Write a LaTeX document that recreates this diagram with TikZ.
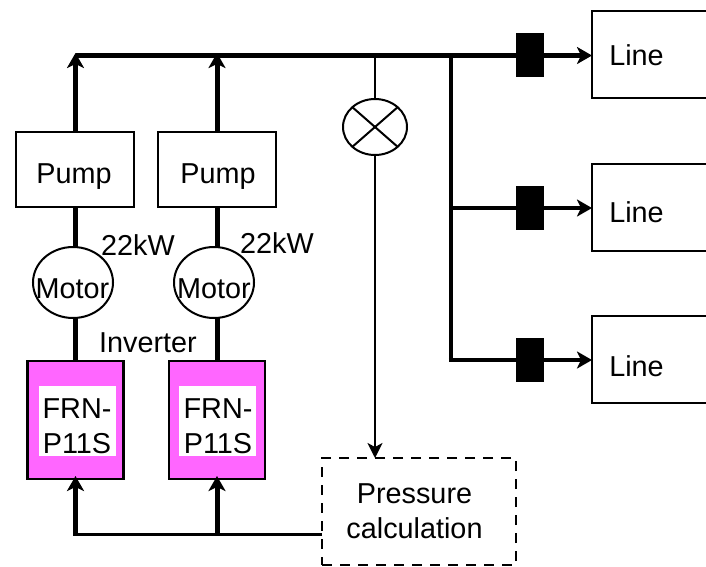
\documentclass[tikz,border=0pt]{standalone}
\usepackage{fontspec}
\setmainfont{Liberation Sans}
\usetikzlibrary{arrows.meta,shapes.geometric}
\tikzset{
  x=1pt,y=-1pt,
  txt/.style={inner sep=0pt,outer sep=0pt,anchor=base,font=\fontsize{28.8}{35}\selectfont,align=center},
  boxn/.style={draw=black,line width=2pt,fill=white,inner sep=0pt,outer sep=0pt,minimum width=#1},
  ringn/.style={draw=black,line width=2pt,ellipse,inner sep=0pt,outer sep=0pt},
  invn/.style={draw=black,line width=2.4pt,fill={rgb,255:red,255;green,102;blue,255},minimum width=96pt,minimum height=118pt,inner sep=0pt,outer sep=0pt},
  whiten/.style={fill=white,minimum width=77pt,minimum height=70pt,inner sep=0pt},
  thick line/.style={line width=5pt},
  thin line/.style={line width=2.2pt},
  tipthick/.style={-{Stealth[length=15pt,width=17pt,inset=4pt]}},
  tipthin/.style={-{Stealth[length=15pt,width=15pt,inset=4pt]}},
  valve/.style={fill=black,inner sep=0pt,outer sep=0pt,minimum width=28pt,minimum height=44pt},
}
\begin{document}
\begin{tikzpicture}
\useasboundingbox (0,0) rectangle (706,566);
% coordinates
\coordinate (busL) at (75.5,55.5);
\coordinate (bus2) at (217,55.5);
\coordinate (busS) at (375,55.5);
\coordinate (busB) at (451,55.5);
\coordinate (ctlL) at (75.5,534);
\coordinate (ctlM) at (217,534);
\coordinate (j2) at (451,208);
\coordinate (j3) at (451,360);
% pumps
\node[boxn=118pt,minimum height=75pt] (pump1) at (75,169.5) {};
\node[boxn=118pt,minimum height=75pt] (pump2) at (217,169.5) {};
% motors
\node[ringn,minimum width=80pt,minimum height=71pt] (motor1) at (73,282.5) {};
\node[ringn,minimum width=80pt,minimum height=71pt] (motor2) at (214,282.5) {};
% inverters
\node[invn] (inv1) at (75.5,420) {};
\node[invn] (inv2) at (217,420) {};
\node[whiten] (w1) at (77.5,421) {};
\node[whiten] (w2) at (217.5,421) {};
% thick shafts
\draw[thick line] (pump1.south -| busL) -- (motor1.north -| busL);
\draw[thick line] (pump2.south -| bus2) -- (motor2.north -| bus2);
\draw[thick line] (motor1.south -| busL) -- (inv1.north -| busL);
\draw[thick line] (motor2.south -| bus2) -- (inv2.north -| bus2);
\draw[thick line,tipthick] (pump1.north -| busL) -- ([yshift=2.5pt]busL);
\draw[thick line,tipthick] (pump2.north -| bus2) -- ([yshift=2.5pt]bus2);
% line boxes
\begin{scope}
\clip (0,0) rectangle (706,566);
\node[boxn=124pt,minimum height=87pt,anchor=north west] (line1) at (592,11) {};
\node[boxn=124pt,minimum height=87pt,anchor=north west] (line2) at (592,164) {};
\node[boxn=124pt,minimum height=87pt,anchor=north west] (line3) at (592,316) {};
\end{scope}
\coordinate (in1) at (592,55.5);
\coordinate (in2) at (592,208);
\coordinate (in3) at (592,360);
% main pipes
\draw[thick line,tipthick] (busL) -- (in1);
\draw[line width=4.5pt,tipthick] (j2) -- (in2);
\draw[line width=4.5pt,tipthick] ([xshift=-2.25pt]j3) -- (in3);
\draw[line width=4.5pt] (busB) -- (j3);
% valves
\node[valve] (v1) at (530,55) {};
\node[valve] (v2) at (530,207.5) {};
\node[valve] (v3) at (530,360) {};
% sensor
\node[ringn,minimum width=64pt,minimum height=56pt] (sensor) at (375,127) {};
\draw[line width=2pt] (sensor.north west) -- (sensor.south east);
\draw[line width=2pt] (sensor.north east) -- (sensor.south west);
\draw[thin line] (busS) -- (sensor.north);
% pressure
\node[draw=black,line width=2.4pt,dash pattern=on 10pt off 8pt,minimum width=194pt,minimum height=107pt,inner sep=0pt,outer sep=0pt] (calc) at (419,511.5) {};
\draw[thin line,tipthin] (sensor.south) -- (sensor.south |- calc.north);
% control
\draw[line width=3pt] (calc.west |- ctlL) -- ([xshift=-2.5pt]ctlL);
\draw[thick line,tipthick] (ctlL) -- ([yshift=3pt]inv1.south -| busL);
\draw[thick line,tipthick] (ctlM) -- ([yshift=3pt]inv2.south -| bus2);
% texts
\node[txt] (tp1) at (74,183) {Pump};
\node[txt] (tp2) at (218,183) {Pump};
\node[txt] (tk1) at (138,255) {22kW};
\node[txt] (tk2) at (277,253) {22kW};
\node[txt] (tm1) at (72.5,298) {Motor};
\node[txt] (tm2) at (214,298) {Motor};
\node[txt] (tinv) at (148,352) {Inverter};
\node[txt] (tf1a) at (77,418) {FRN-};
\node[txt] (tf1b) at (77,453) {P11S};
\node[txt] (tf2a) at (218,418) {FRN-};
\node[txt] (tf2b) at (218,453) {P11S};
\node[txt] (tl1) at (636.5,65) {Line};
\node[txt] (tl2) at (636.5,222) {Line};
\node[txt] (tl3) at (636.5,376) {Line};
\node[txt] (tc1) at (414.5,503) {Pressure};
\node[txt] (tc2) at (414.5,538) {calculation};
\end{tikzpicture}
\end{document}
